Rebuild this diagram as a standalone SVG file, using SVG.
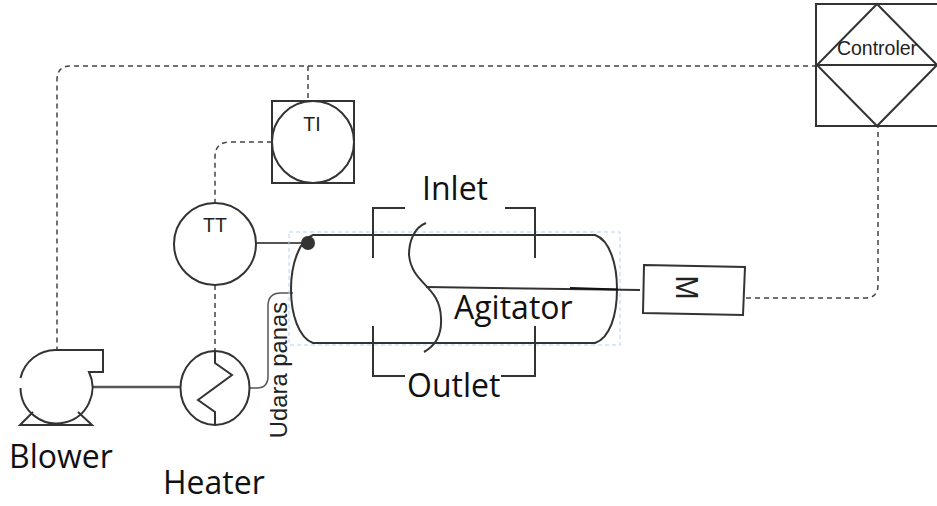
<svg xmlns="http://www.w3.org/2000/svg" width="937" height="506" viewBox="0 0 937 506">
<style>
.s{fill:none;stroke:#333;stroke-width:2}
.n{fill:#fff;stroke:#333;stroke-width:2}
.d{fill:none;stroke:#444;stroke-width:1.5;stroke-dasharray:5 4}
.c{fill:none;stroke:#555;stroke-width:2}
.l{font-family:"Open Sans",sans-serif;font-size:32px;fill:#111}
.a{font-family:"Liberation Sans",sans-serif;fill:#222;text-anchor:middle}
</style>
<rect width="937" height="506" fill="#fff"/>
<g id="connectors">
<path class="d" d="M817 66H71Q57 66 57 80V350"/>
<path class="d" d="M308 66V101"/>
<path class="d" d="M272 142H230Q215 142 215 157V203"/>
<path class="d" d="M215 285V351"/>
<path class="d" d="M746 298H865Q878 298 878 285V126"/>
<path class="c" d="M92 387H181" style="stroke-width:2.500"/>
<path class="c" d="M256 243H308"/>
<path class="c" d="M249 388H257Q268 388 268 376V306Q268 293 281 293H293" style="stroke-width:1.500"/>
</g>
<g id="tank">
<path d="M289 232H620V345H289Z" fill="none" stroke="#b8d0f5" stroke-width="1" stroke-dasharray="4 3"/>
<path class="s" d="M313 235H595C610 240 617 265 617 289C617 315 610 338 595 343H313C299 338 291 315 291 289C291 265 299 240 313 235Z"/>
<path class="s" d="M373 258V208H405M505 208H535V258"/>
<path class="s" d="M373 326V376H405M501 376H535V326"/>
<path class="s" d="M426 223C413 228 409 243 409 255C412 285 440 285 441 318C442 335 435 346 424 352"/>
<path class="s" d="M426 287L640 290"/>
<path d="M570 288L618 289.500" fill="none" stroke="#111" stroke-width="2"/>
<circle cx="308" cy="243" r="7" fill="#333"/>
<text class="l" x="422" y="200">Inlet</text>
<text class="l" x="454" y="319">Agitator</text>
<text class="l" x="407" y="397">Outlet</text>
</g>
<g id="blower">
<path class="s" d="M20.500 378A36 36 0 0 1 56 350H103V372H89A36 36 0 1 1 20.500 388"/>
<path class="s" d="M33 412L20 425H92L78 412"/>
<text class="l" x="9" y="468">Blower</text>
</g>
<g id="heater">
<ellipse class="n" cx="215" cy="388" rx="34.500" ry="37"/>
<path class="s" d="M215 351V363L232 375L198 400L215 412V425"/>
<text class="l" x="163" y="494">Heater</text>
</g>
<g id="udara">
<text class="a" font-size="23.800" transform="translate(287 370) rotate(-90)">Udara panas</text>
</g>
<g id="tt">
<circle class="n" cx="215" cy="244" r="41"/>
<text class="a" font-size="19.500" x="215" y="232">TT</text>
</g>
<g id="ti">
<rect class="n" x="272" y="101" width="82" height="82"/>
<circle class="n" cx="313" cy="142" r="41"/>
<text class="a" font-size="19.500" x="312" y="131">TI</text>
</g>
<g id="motor">
<path class="n" d="M644 265L745 267L743 315L643 313Z"/>
<text class="a" font-size="32" transform="translate(675.500 287.500) rotate(90) scale(.9 1)">M</text>
</g>
<g id="controller">
<rect class="n" x="816" y="4" width="122" height="122"/>
<path class="s" d="M877 4L937 65L877 126L817 65ZM817 65H937"/>
<text class="a" font-size="19.500" x="877" y="55">Controler</text>
</g>
</svg>
